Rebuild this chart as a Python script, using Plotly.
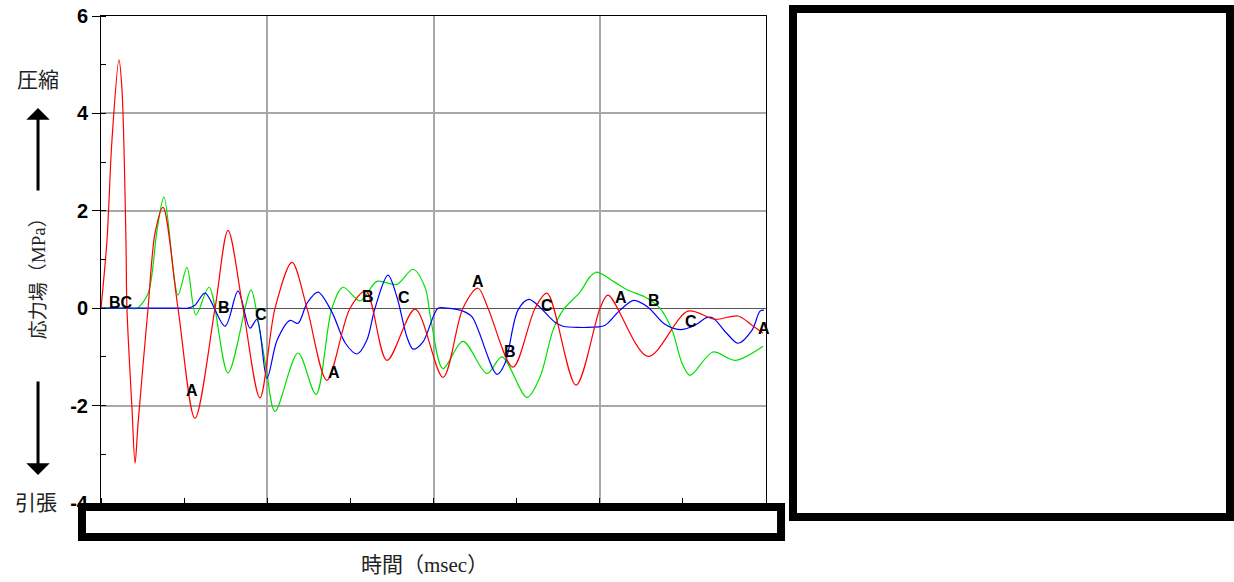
import plotly.graph_objects as go

# ---- data (time in msec, stress in MPa) ----
t_red = [0, 0.36, 0.66, 1.08, 1.26, 1.50, 1.56, 1.86, 2.05, 2.23, 2.83, 3.25, 3.73, 4.63, 5.65,
         6.86, 7.64, 8.54, 9.56, 10.47, 11.49, 12.39, 13.59, 14.98, 15.94, 17.20, 18.89, 20.57,
         21.77, 22.68, 23.28, 24.78, 26.11, 26.83, 28.57, 30.02, 30.50, 32.90, 35.31, 36.93,
         38.32, 39.16, 39.82]
v_red = [0, 1.4, 3.45, 5.1, 4.5, 1.4, 0, -2.03, -3.18, -2.36, 0, 1.54, 2.07, 0, -2.26,
         0, 1.6, 0, -1.84, 0, 0.94, 0, -1.48, 0, 0.35, -1.07, -0.02, -1.42,
         0, 0.41, 0, -1.21, 0, 0.31, -1.58, 0, 0.27, -0.99, -0.06, -0.23,
         -0.16, -0.35, -0.51]

t_green = [0, 1.0, 1.7, 2.17, 2.83, 3.37, 3.79, 4.63, 5.17, 5.71, 6.50, 7.64, 9.02, 9.44, 9.92, 10.47,
           11.85, 12.93, 13.89, 14.56, 15.58, 16.60, 17.80, 18.77, 19.49, 19.85, 20.57, 21.77,
           23.22, 24.12, 25.62, 26.41, 27.19, 27.79, 28.81, 29.41, 29.83, 30.92, 31.70, 32.72,
           33.62, 34.35, 34.95, 35.43, 36.81, 38.14, 39.82]
v_green = [0, 0, 0, 0, 0.3, 1.6, 2.28, 0.27, 0.84, -0.14, 0.43, -1.33, 0.37, -0.25, -1.2, -2.12,
           -0.92, -1.77, 0, 0.43, 0.15, 0.55, 0.49, 0.8, 0.43, -0.25, -1.24, -0.68,
           -1.34, -1.0, -1.83, -1.41, -0.45, -0.04, 0.33, 0.64, 0.74, 0.53, 0.37, 0.23,
           0, -0.45, -1.13, -1.38, -0.9, -1.07, -0.78]

t_blue = [0, 1.0, 2.0, 3.0, 4.0, 4.7, 5.23, 5.65, 6.26, 7.46, 8.24, 8.96, 9.38, 9.98, 10.59, 11.37,
          11.85, 12.39, 13.05, 13.89, 14.70, 15.40, 15.99, 16.48, 17.26, 17.80, 18.41, 18.77,
          19.37, 20.27, 20.81, 21.77, 22.32, 23.82, 24.30, 25.08, 25.74, 27.31, 27.79, 29.59,
          30.32, 31.22, 32.06, 32.90, 33.92, 34.83, 35.73, 36.45, 36.81, 37.65, 38.32, 39.16,
          39.64, 39.88]
v_blue = [0, 0, 0, 0, 0, 0, 0, 0.06, 0.31, -0.37, 0.35, -0.41, -0.23, -1.44, -0.66, -0.25,
          -0.31, 0.1, 0.33, -0.08, -0.72, -0.94, -0.66, 0, 0.68, 0.23, -0.6, -0.84,
          -0.69, 0, 0.0, -0.06, -0.18, -1.36, -1.13, -0.04, 0.18, -0.29, -0.37, -0.39,
          -0.35, -0.04, 0.16, 0.02, -0.33, -0.44, -0.35, -0.19, -0.2, -0.52, -0.72, -0.45,
          -0.06, -0.04]

y_ticks = [-4, -2, 0, 2, 4, 6]
y_ticktext = ["-4", "-2", "0", "2", "4", "6"]

label_text = ["BC", "A", "B", "C", "A", "B", "C", "A", "B", "C", "A", "B", "C", "A"]
label_t = [1.20, 5.47, 7.40, 9.62, 14.02, 16.06, 18.23, 22.68, 24.60, 26.83, 31.28, 33.26, 35.49, 39.88]
label_v = [0.12, -1.68, 0.02, -0.12, -1.33, 0.25, 0.23, 0.55, -0.88, 0.06, 0.21, 0.16, -0.27, -0.41]

fig = go.Figure()
for t, v, c in [(t_green, v_green, "#00e000"), (t_blue, v_blue, "#0000ff"), (t_red, v_red, "#ff0000")]:
    fig.add_trace(go.Scatter(x=t, y=v, mode="lines", line=dict(color=c, width=1.2, shape="spline", smoothing=0.9),
                             showlegend=False, hoverinfo="skip"))

for txt, tx, vy in zip(label_text, label_t, label_v):
    fig.add_annotation(x=tx, y=vy, text=txt, showarrow=False, xanchor="center", yanchor="middle",
                       font=dict(family="Liberation Sans, Arial", size=16, color="black", weight="bold"))

cjk = "Liberation Serif, Noto Sans CJK JP, serif"
def side_text(x, y, text, size, angle=0):
    fig.add_annotation(xref="paper", yref="paper", x=x, y=y, text=text, textangle=angle, showarrow=False,
                       xanchor="center", yanchor="middle", font=dict(family=cjk, size=size, color="#222"))

side_text(-0.0947, 0.47, "応力場（MPa）", 19, -90)
side_text(-0.0947, 0.868, "圧縮", 21)
side_text(-0.0977, 0.0, "引張", 21)
side_text(0.486, -0.127, "時間（msec）", 21)

# arrows
fig.add_annotation(xref="paper", yref="paper", x=-0.0947, y=0.811, ax=0, ay=84, text="",
                   showarrow=True, arrowhead=1, arrowsize=1.3, arrowwidth=3, arrowcolor="black", standoff=0)
fig.add_annotation(xref="paper", yref="paper", x=-0.0947, y=0.0575, ax=0, ay=-95, text="",
                   showarrow=True, arrowhead=1, arrowsize=1.3, arrowwidth=3, arrowcolor="black", standoff=0)

# redaction boxes
fig.add_shape(type="rect", xref="paper", yref="paper", x0=-0.0286, x1=1.0226, y0=-0.0698, y1=-0.0082,
              line=dict(color="black", width=8), fillcolor="white", layer="above")
fig.add_shape(type="rect", xref="paper", yref="paper", x0=1.0406, x1=1.6977, y0=-0.0287, y1=1.0144,
              line=dict(color="black", width=8), fillcolor="white", layer="above")

fig.update_xaxes(range=[0, 40], dtick=10, tick0=0, showticklabels=False, ticks="outside", ticklen=9,
                 tickcolor="#555", showgrid=True, gridcolor="#a8a8a8", gridwidth=1.5, zeroline=False,
                 showline=True, linecolor="black", linewidth=1, mirror=True, automargin=False,
                 minor=dict(dtick=5, tick0=0, ticks="inside", ticklen=5, tickcolor="black", showgrid=False))
fig.update_yaxes(range=[-4, 6], tickmode="array", tickvals=y_ticks, ticktext=y_ticktext,
                 ticks="outside", ticklen=8, tickcolor="black", ticklabeloverflow="allow",
                 tickfont=dict(family="Liberation Sans, Arial", size=20, color="black", weight="bold"),
                 showgrid=True, gridcolor="#a8a8a8", gridwidth=1.5, automargin=False,
                 zeroline=True, zerolinecolor="#555", zerolinewidth=1,
                 showline=True, linecolor="black", linewidth=1, mirror=True,
                 minor=dict(dtick=1, tick0=0, ticks="inside", ticklen=5, tickcolor="black", showgrid=False))

fig.update_layout(width=1234, height=582, margin=dict(l=101, r=468, t=16, b=79),
                  paper_bgcolor="white", plot_bgcolor="white")
fig.write_html("out.html", config={"displayModeBar": False},
               post_script="document.body.style.margin='0';document.body.style.overflow='hidden';")
